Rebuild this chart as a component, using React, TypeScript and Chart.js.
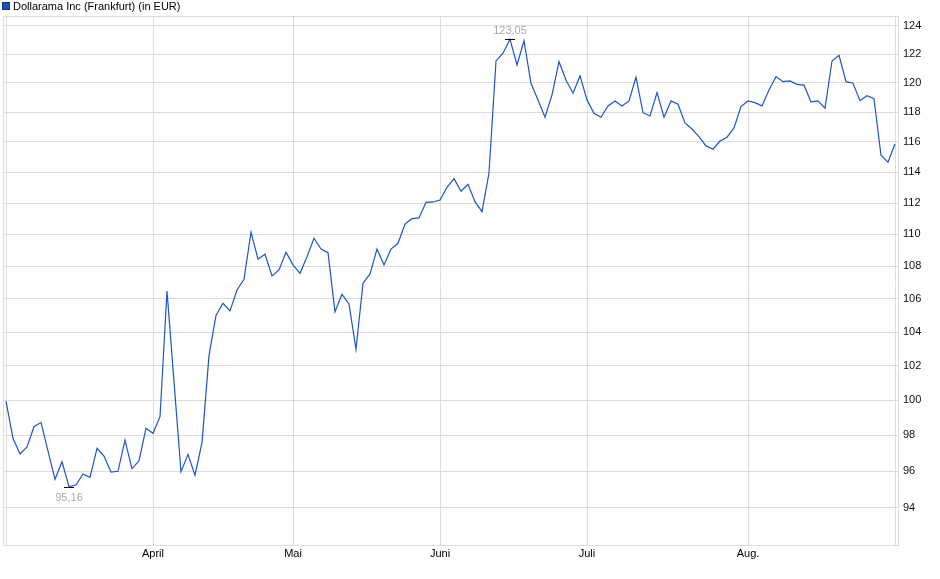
import { useRef, useEffect } from 'react';
import { Chart, registerables } from 'chart.js';

Chart.register(...registerables);

// daily closing prices (EUR), one array per month
const march = [
  99.95, 97.84, 96.96, 97.36, 98.49, 98.74, 97.12, 95.56, 96.53, 95.16, 95.25,
  95.85, 95.67, 97.28, 96.85, 95.96, 96.0, 97.74, 96.14, 96.58, 98.4,
];
const april = [
  98.12, 99.06, 106.48, 101.07, 95.98, 96.94, 95.79, 97.6, 102.6, 105.0,
  105.73, 105.27, 106.54, 107.2, 110.14, 108.44, 108.75, 107.41, 107.78, 108.88,
];
const may = [
  108.09, 107.57, 108.6, 109.76, 109.08, 108.85, 105.22, 106.28, 105.69, 102.97,
  106.96, 107.53, 109.08, 108.09, 109.08, 109.44, 110.66, 111.0, 111.05, 112.05, 112.07,
];
const june = [
  112.2, 113.02, 113.58, 112.76, 113.22, 112.09, 111.45, 113.95, 121.53, 122.07,
  123.05, 121.25, 122.95, 119.98, 118.84, 117.66, 119.18, 121.48, 120.21, 119.3, 120.49,
];
const july = [
  118.84, 117.93, 117.66, 118.43, 118.77, 118.43, 118.77, 120.4, 117.97, 117.75,
  119.34, 117.66, 118.77, 118.54, 117.28, 116.87, 116.36, 115.74, 115.52, 116.06,
  116.32, 116.94, 118.39,
];
const august = [
  118.77, 118.65, 118.43, 119.52, 120.44, 120.09, 120.14, 119.91, 119.85, 118.7,
  118.77, 118.27, 121.53, 121.93, 120.09, 119.98, 118.79, 119.13, 118.93, 115.12,
  114.66, 115.87,
];

const months = [march, april, may, june, july, august];
const monthLabels = ['', 'April', 'Mai', 'Juni', 'Juli', 'Aug.'];
const yTicks = [94, 96, 98, 100, 102, 104, 106, 108, 110, 112, 114, 116, 118, 120, 122, 124];

const seriesLabel = 'Dollarama Inc (Frankfurt) (in EUR)';
const FONT = '"Liberation Sans", Arial, sans-serif';
const LINE = '#1c55c6';
const GRID = '#dcdcdc';

const prices = months.flat();

// x tick positions: first day of each month, plus first and last point
const monthStarts: number[] = [];
let acc = 0;
months.forEach((m) => {
  monthStarts.push(acc);
  acc += m.length;
});
const tickLabels = new Map<number, string>();
monthStarts.forEach((idx, k) => tickLabels.set(idx, monthLabels[k]));
tickLabels.set(prices.length - 1, '');

const fmt = (v: number) => v.toFixed(2).replace('.', ',');

const framePlugin = {
  id: 'frame',
  beforeDatasetsDraw(chart: Chart) {
    const { ctx, chartArea } = chart;
    ctx.save();
    ctx.strokeStyle = GRID;
    ctx.lineWidth = 1;
    ctx.strokeRect(
      Math.round(chartArea.left) + 0.5,
      Math.round(chartArea.top) + 0.5,
      Math.round(chartArea.right - chartArea.left),
      Math.round(chartArea.bottom - chartArea.top)
    );
    ctx.restore();
  },
  afterDraw(chart: Chart) {
    const { ctx } = chart;
    ctx.save();
    ctx.fillStyle = '#1f4fb5';
    ctx.fillRect(2, 2, 8, 8);
    ctx.strokeStyle = '#123a8c';
    ctx.strokeRect(2.5, 2.5, 7, 7);
    ctx.fillStyle = '#000';
    ctx.font = `11px ${FONT}`;
    ctx.textBaseline = 'middle';
    ctx.textAlign = 'left';
    ctx.fillText(seriesLabel, 13, 6.5);
    ctx.restore();
  },
};

const extremesPlugin = {
  id: 'extremes',
  afterDatasetsDraw(chart: Chart) {
    const { ctx, scales } = chart;
    const xs = scales.x;
    const ys = scales.y;
    const hi = prices.indexOf(Math.max(...prices));
    const lo = prices.indexOf(Math.min(...prices));
    ctx.save();
    ctx.font = `11px ${FONT}`;
    ctx.textAlign = 'center';
    ctx.textBaseline = 'middle';
    [
      { i: hi, dy: -9 },
      { i: lo, dy: 10.5 },
    ].forEach(({ i, dy }) => {
      const px = xs.getPixelForValue(i);
      const py = Math.round(ys.getPixelForValue(prices[i])) + 0.5;
      ctx.strokeStyle = '#000';
      ctx.lineWidth = 1;
      ctx.beginPath();
      ctx.moveTo(px - 5, py);
      ctx.lineTo(px + 5, py);
      ctx.stroke();
      ctx.fillStyle = '#a6a8ad';
      ctx.fillText(fmt(prices[i]), px, py + dy);
    });
    ctx.restore();
  },
};

export default function App() {
  const canvasRef = useRef<HTMLCanvasElement>(null);
  const chartRef = useRef<Chart | null>(null);

  useEffect(() => {
    if (!canvasRef.current) return;
    chartRef.current?.destroy();

    const last = prices.length - 1;
    const pad = 3 / ((895 - 6) / last);

    chartRef.current = new Chart(canvasRef.current, {
      type: 'line',
      data: {
        datasets: [
          {
            label: seriesLabel,
            data: prices.map((v, i) => ({ x: i, y: v })),
            borderColor: LINE,
            borderWidth: 1.2,
            pointRadius: 0,
            tension: 0,
            fill: false,
          },
        ],
      },
      options: {
        responsive: false,
        maintainAspectRatio: false,
        animation: false,
        layout: { padding: { left: 3, top: 16, right: 0, bottom: 0 } },
        plugins: { legend: { display: false }, tooltip: { enabled: false } },
        scales: {
          x: {
            type: 'linear',
            min: -pad,
            max: last + pad,
            afterBuildTicks: (scale: any) => {
              scale.ticks = [...tickLabels.keys()].map((v) => ({ value: v }));
            },
            afterFit: (scale: any) => {
              scale.height = 34;
            },
            grid: { color: GRID, lineWidth: 1, drawTicks: false },
            border: { display: false },
            ticks: {
              autoSkip: false,
              maxRotation: 0,
              padding: 2,
              color: '#000',
              font: { family: FONT, size: 11 },
              callback: (v: any) => tickLabels.get(Number(v)) ?? '',
            },
          },
          y: {
            type: 'logarithmic',
            position: 'right',
            min: 92.02,
            max: 124.71,
            afterBuildTicks: (scale: any) => {
              scale.ticks = yTicks.map((v) => ({ value: v }));
            },
            afterFit: (scale: any) => {
              scale.width = 42;
            },
            grid: { color: GRID, lineWidth: 1, drawTicks: false },
            border: { display: false },
            ticks: {
              padding: 5,
              color: '#111',
              font: { family: FONT, size: 11 },
              callback: (v: any) => String(v),
            },
          },
        },
      },
      plugins: [framePlugin, extremesPlugin],
    });

    return () => {
      chartRef.current?.destroy();
      chartRef.current = null;
    };
  }, []);

  return (
    <div style={{ position: 'absolute', left: 0, top: 0, width: 940, height: 579, background: '#fff' }}>
      <canvas ref={canvasRef} width={940} height={579} />
    </div>
  );
}
